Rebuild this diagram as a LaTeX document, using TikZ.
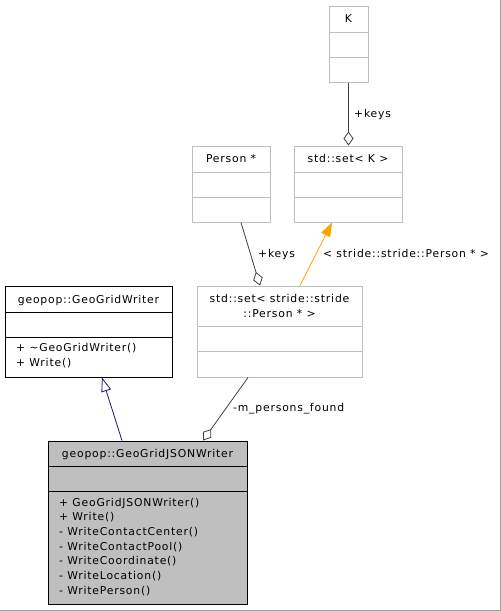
\documentclass[tikz,border=0pt]{standalone}
\usepackage{fontspec}
\setmainfont{DejaVu Sans}[LetterSpace=7.5]
\usetikzlibrary{arrows.meta}
\definecolor{boxgray}{RGB}{191,191,191}
\definecolor{edgegray}{RGB}{64,64,64}
\definecolor{navyedge}{RGB}{25,25,112}
\definecolor{orangeedge}{RGB}{255,165,0}
\definecolor{bggray}{RGB}{160,160,160}
\begin{document}
\begin{tikzpicture}[x=1pt,y=-1pt,
  every node/.style={font=\fontsize{10.8pt}{12pt}\selectfont},
  umlbox/.style={draw=boxgray,line width=1pt,rectangle,inner sep=0pt,fill=white},
  umlblack/.style={draw=black,line width=1pt,rectangle,inner sep=0pt},
  txt/.style={inner sep=0pt,anchor=base},
  txtw/.style={inner sep=0pt,anchor=base west},
  aggr/.style={draw=edgegray,line width=0.8pt,-{Diamond[open,length=14pt,width=10pt,line width=0.8pt]}},
  inherit/.style={draw=navyedge,line width=0.8pt,-{Triangle[open,length=14pt,width=10pt,line width=0.8pt,fill=white]}},
  templ/.style={draw=orangeedge,line width=0.8pt,-{Triangle[length=14pt,width=10pt]}},
]
\useasboundingbox (0,0) rectangle (501,611);
\fill[white] (0,0) rectangle (501,611);
\draw[bggray,line width=1pt] (500.5,0) -- (500.5,610.5) -- (0,610.5);

% K
\node[umlbox,minimum width=39pt,minimum height=76pt] (K) at (348.5,44) {};
\draw[boxgray,line width=1pt] (K.west |- 0,32) -- (K.east |- 0,32) (K.west |- 0,57) -- (K.east |- 0,57);
\node[txt] (Kt) at (348.5,22.5) {K};

% Person *
\node[umlbox,minimum width=78pt,minimum height=76pt] (P) at (231,184) {};
\draw[boxgray,line width=1pt] (P.west |- 0,172) -- (P.east |- 0,172) (P.west |- 0,197) -- (P.east |- 0,197);
\node[txt] (Pt) at (231,162) {Person *};

% std::set< K >
\node[umlbox,minimum width=108pt,minimum height=76pt] (SK) at (348,184) {};
\draw[boxgray,line width=1pt] (SK.west |- 0,172) -- (SK.east |- 0,172) (SK.west |- 0,197) -- (SK.east |- 0,197);
\node[txt] (SKt) at (348,162) {std::set< K >};

% std::set< stride::stride::Person * >
\node[umlbox,minimum width=165pt,minimum height=91pt] (SP) at (279.5,331.5) {};
\draw[boxgray,line width=1pt] (SP.west |- 0,326) -- (SP.east |- 0,326) (SP.west |- 0,351) -- (SP.east |- 0,351);
\node[txt] (SPt1) at (279.5,302) {std::set< stride::stride};
\node[txt] (SPt2) at (279.5,317) {::Person * >};

% geopop::GeoGridWriter
\node[umlblack,fill=white,minimum width=167pt,minimum height=91pt] (GW) at (88.5,331.5) {};
\draw[black,line width=1pt] (GW.west |- 0,312) -- (GW.east |- 0,312) (GW.west |- 0,337) -- (GW.east |- 0,337);
\node[txt] (GWt) at (88.5,303.5) {geopop::GeoGridWriter};
\node[txtw] (GWm1) at (16,351.7) {+ \textasciitilde GeoGridWriter()};
\node[txtw] (GWm2) at (16,366.5) {+ Write()};

% geopop::GeoGridJSONWriter
\node[umlblack,fill=boxgray,minimum width=199pt,minimum height=163pt] (JW) at (147.5,522.5) {};
\draw[black,line width=1pt] (JW.west |- 0,466) -- (JW.east |- 0,466) (JW.west |- 0,491) -- (JW.east |- 0,491);
\node[txt] (JWt) at (147.5,457) {geopop::GeoGridJSONWriter};
\node[txtw] (JWm1) at (59,506) {+ GeoGridJSONWriter()};
\node[txtw] (JWm2) at (59,520.7) {+ Write()};
\node[txtw] (JWm3) at (59,535.4) {- WriteContactCenter()};
\node[txtw] (JWm4) at (59,550.1) {- WriteContactPool()};
\node[txtw] (JWm5) at (59,564.8) {- WriteCoordinate()};
\node[txtw] (JWm6) at (59,579.5) {- WriteLocation()};
\node[txtw] (JWm7) at (59,594.2) {- WritePerson()};

% connectors
\draw[aggr] (K.south) -- (K.south |- SK.north);
\node[txtw] (l1) at (354,117) {+keys};

\draw[aggr] ([xshift=10pt]P.south) -- ([xshift=-19.5pt]SP.north);
\node[txtw] (l2) at (258,257) {+keys};

\draw[templ] ([xshift=20.5pt]SP.north) -- ([xshift=-16pt]SK.south);
\node[txtw] (l3) at (323,257) {< stride::stride::Person * >};

\draw[inherit] ([xshift=-25.5pt]JW.north) -- ([xshift=13.5pt]GW.south);

\draw[aggr] ([xshift=-31.5pt]SP.south) -- ([xshift=55.5pt]JW.north);
\node[txtw] (l4) at (233,411) {-m\_persons\_found};
\end{tikzpicture}
\end{document}
